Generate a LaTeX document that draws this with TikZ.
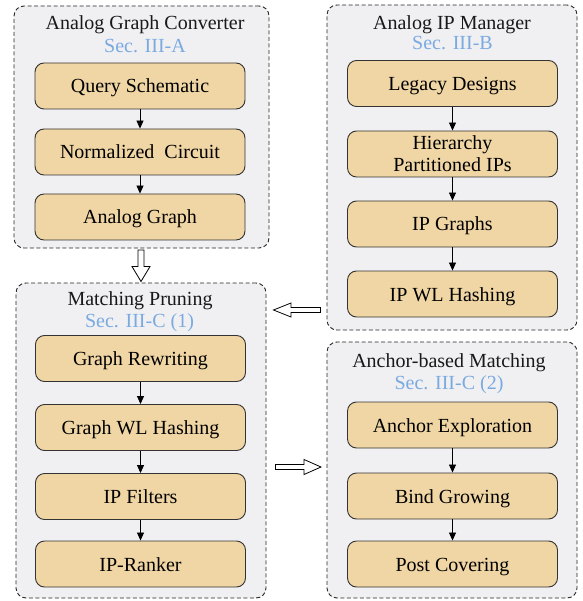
\documentclass[tikz,border=0pt]{standalone}
\usepackage{fontspec}
\setmainfont{Liberation Serif}
\usetikzlibrary{arrows.meta}
\definecolor{panelfill}{RGB}{240,240,243}
\definecolor{boxfill}{RGB}{240,214,164}
\definecolor{secblue}{RGB}{122,170,224}
\begin{document}
\begin{tikzpicture}[x=1pt,y=-1pt, font=\fontsize{20}{22}\selectfont,
 panel/.style={draw=black!85, dash pattern=on 4pt off 2.5pt, line width=0.9pt, fill=panelfill, rounded corners=10pt, inner sep=0},
 stepbox/.style={draw=black!80, line width=0.9pt, fill=boxfill, rounded corners=9pt, minimum width=210pt, minimum height=46pt, inner sep=0, align=center, text height=14pt, text depth=0pt},
 title/.style={inner sep=0, anchor=base, text=black!90},
 sec/.style={inner sep=0, anchor=base, text=secblue},
 flow/.style={-{Triangle[length=8pt,width=7pt]}, line width=0.8pt},
 hollow/.style={draw=black, fill=white, line width=0.8pt, line join=miter}]
\useasboundingbox (0,0) rectangle (582,601);

% panels
\node[panel, minimum width=255pt, minimum height=242pt] (A) at (141.5,127) {};
\node[panel, minimum width=250pt, minimum height=325pt] (B) at (452,167.5) {};
\node[panel, minimum width=250pt, minimum height=315pt] (C) at (141,440.5) {};
\node[panel, minimum width=250pt, minimum height=256pt] (D) at (452,470) {};

% titles
\node[title] (At) at (145,30) {Analog Graph Converter};
\node[sec] (As) at (145,52.7) {Sec. III-A};
\node[title] (Bt) at (452,29.3) {Analog IP Manager};
\node[sec] (Bs) at (452.5,50) {Sec. III-B};
\node[title] (Ct) at (140,305) {Matching Pruning};
\node[sec] (Cs) at (139.5,327.3) {Sec. III-C (1)};
\node[title] (Dt) at (449,367.3) {Anchor-based Matching};
\node[sec] (Ds) at (449,389.3) {Sec. III-C (2)};

% steps A
\node[stepbox] (a1) at (140,86) {Query Schematic};
\node[stepbox] (a2) at (140,152) {Normalized~~Circuit};
\node[stepbox] (a3) at (140,217) {Analog Graph};
% steps B
\node[stepbox] (b1) at (452.5,83.5) {Legacy Designs};
\node[stepbox, text height=, text depth=] (b2) at (452.5,154) {Hierarchy\\Partitioned IPs};
\node[stepbox] (b3) at (452.5,224) {IP Graphs};
\node[stepbox] (b4) at (452.5,294) {IP WL Hashing};
% steps C
\node[stepbox] (c1) at (140.5,358.5) {Graph Rewriting};
\node[stepbox] (c2) at (140.5,427.5) {Graph WL Hashing};
\node[stepbox] (c3) at (140.5,496.5) {IP Filters};
\node[stepbox] (c4) at (140.5,564) {IP-Ranker};
% steps D
\node[stepbox] (d1) at (452.5,425) {Anchor Exploration};
\node[stepbox] (d2) at (452.5,496) {Bind Growing};
\node[stepbox] (d3) at (452.5,564) {Post Covering};

\draw[flow] (a1) -- (a2);
\draw[flow] (a2) -- (a3);
\draw[flow] (b1) -- (b2);
\draw[flow] (b2) -- (b3);
\draw[flow] (b3) -- (b4);
\draw[flow] (c1) -- (c2);
\draw[flow] (c2) -- (c3);
\draw[flow] (c3) -- (c4);
\draw[flow] (d1) -- (d2);
\draw[flow] (d2) -- (d3);

% hollow arrows
\draw[hollow] (138,250) -- (138,266.5) -- (132,266.5) -- (141,281.5) -- (150,266.5) -- (144,266.5) -- (144,250) -- cycle;
\draw[hollow] (320.5,307.5) -- (291,307.5) -- (291,303) -- (273.5,310) -- (291,317) -- (291,312.5) -- (320.5,312.5) -- cycle;
\draw[hollow] (275.5,464.5) -- (304,464.5) -- (304,459.5) -- (321,467) -- (304,474.5) -- (304,469.5) -- (275.5,469.5) -- cycle;
\end{tikzpicture}
\end{document}
